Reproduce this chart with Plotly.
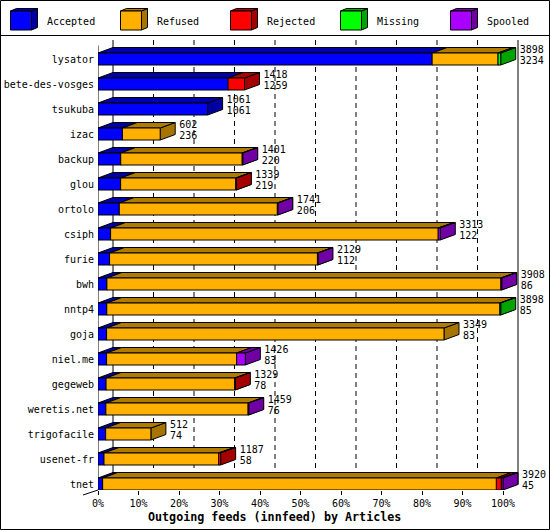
import plotly.graph_objects as go

# ---------------- data ----------------
feeds = ["lysator", "bete-des-vosges", "tsukuba", "izac", "backup", "glou", "ortolo",
         "csiph", "furie", "bwh", "nntp4", "goja", "niel.me", "gegeweb", "weretis.net",
         "trigofacile", "usenet-fr", "tnet"]
total = [3898, 1418, 1061, 602, 1401, 1339, 1741, 3313, 2129, 3908, 3898, 3349, 1426,
         1329, 1459, 512, 1187, 3920]
accepted = [3234, 1259, 1061, 236, 220, 219, 206, 122, 112, 86, 85, 83, 83, 78, 76, 74, 58, 45]
refused = [638, 0, 0, 366, 1176, 1116, 1530, 3171, 2012, 3814, 3805, 3266, 1259, 1246,
           1377, 438, 1109, 3811]
rejected = [0, 159, 0, 0, 0, 4, 0, 0, 0, 0, 0, 0, 0, 5, 0, 0, 20, 48]
missing = [26, 0, 0, 0, 0, 0, 0, 0, 0, 0, 8, 0, 0, 0, 0, 0, 0, 0]
spooled = [0, 0, 0, 0, 5, 0, 5, 20, 5, 8, 0, 0, 84, 0, 6, 0, 0, 16]

series_names = ["Accepted", "Refused", "Rejected", "Missing", "Spooled"]
series_values = [accepted, refused, rejected, missing, spooled]
front_colors = ["#0000FF", "#FFB000", "#FF0000", "#00FF00", "#AA00FF"]
top_colors = ["#0000AA", "#B07C00", "#AA0000", "#00AA00", "#7400AA"]
side_colors = ["#0000A0", "#A87400", "#A40000", "#00A400", "#7000A4"]
xtick_vals = [0, 10, 20, 30, 40, 50, 60, 70, 80, 90, 100]
xtick_text = ["0%", "10%", "20%", "30%", "40%", "50%", "60%", "70%", "80%", "90%", "100%"]
x_title = "Outgoing feeds (innfeed) by Articles"

# ---------------- geometry ----------------
W, H = 550, 530
L, R, T, B = 98, 1, 40, 40
plot_w = W - L - R
plot_h = H - T - B
PXX = 4.05                   # px per percent
XMAX = plot_w / PXX
PXY = 25.0                   # px per row
DX = 15 / PXX                # depth in x (data units)
DY = 5.5 / PXY               # depth in y (data units)
HH = 0.24                    # half height of a bar front
n = len(feeds)
YBOT = (n - 1) + HH
YTOP = YBOT - plot_h / PXY
MAXTOT = max(total)
FONT = "DejaVu Sans Mono"


def pct(v):
    return v / MAXTOT * 100.0


def px2paper(px, py):
    return (px - L) / plot_w, (H - B - py) / plot_h


fig = go.Figure()

# back-wall grid (dashed)
gx, gy = [], []
for v in xtick_vals[1:-1]:
    gx += [v + DX, v + DX, None]
    gy += [YTOP, YBOT - DY, None]
fig.add_trace(go.Scatter(x=gx, y=gy, mode="lines",
                         line=dict(color="black", width=1, dash="5px,4px"),
                         hoverinfo="skip", showlegend=False))
# back wall solid edges and front axis
fig.add_trace(go.Scatter(x=[DX, DX, None, 100 + DX, 100 + DX, None, 0, 0, None, 0, 100],
                         y=[YTOP, YBOT - DY, None, YTOP, YBOT - DY, None, YTOP + DY, YBOT, None,
                            YBOT, YBOT],
                         mode="lines", line=dict(color="black", width=1),
                         hoverinfo="skip", showlegend=False))

# 3D stacked bars
cum = [0.0] * n
for k, (name, vals) in enumerate(zip(series_names, series_values)):
    fx, fy, tx, ty, sx, sy = [], [], [], [], [], []
    for i in range(n):
        v = vals[i]
        if v <= 0:
            continue
        x0 = pct(cum[i])
        x1 = pct(cum[i] + v)
        cum[i] += v
        yt, yb = i - HH, i + HH
        fx += [x0, x1, x1, x0, x0, None]
        fy += [yt, yt, yb, yb, yt, None]
        tx += [x0, x0 + DX, x1 + DX, x1, x0, None]
        ty += [yt, yt - DY, yt - DY, yt, yt, None]
        sx += [x1, x1 + DX, x1 + DX, x1, x1, None]
        sy += [yt, yt - DY, yb - DY, yb, yt, None]
    for xs, ys, col in ((sx, sy, side_colors[k]), (tx, ty, top_colors[k]), (fx, fy, front_colors[k])):
        fig.add_trace(go.Scatter(x=xs, y=ys, mode="lines", fill="toself", fillcolor=col,
                                 line=dict(color="black", width=1), name=name,
                                 hoverinfo="skip", showlegend=False))

# value labels
lab_x = [pct(t) + DX + 4 / PXX for t in total]
fig.add_trace(go.Scatter(x=lab_x, y=[i - 0.12 - 0.22 for i in range(n)], mode="text",
                         text=[str(t) for t in total], textposition="middle right",
                         textfont=dict(family=FONT, size=10, color="black"),
                         cliponaxis=False, hoverinfo="skip", showlegend=False))
fig.add_trace(go.Scatter(x=lab_x, y=[i - 0.12 + 0.22 for i in range(n)], mode="text",
                         text=[str(a) for a in accepted], textposition="middle right",
                         textfont=dict(family=FONT, size=10, color="black"),
                         cliponaxis=False, hoverinfo="skip", showlegend=False))

shapes = []
annotations = []
# outer border & legend separator
x0p, y0p = px2paper(0.5, 0.5)
x1p, y1p = px2paper(549.5, 529.5)
shapes.append(dict(type="rect", xref="paper", yref="paper", x0=x0p, y0=y0p, x1=x1p, y1=y1p,
                   line=dict(color="black", width=1), fillcolor="rgba(0,0,0,0)"))
sy_ = px2paper(0, 35.5)[1]
shapes.append(dict(type="line", xref="paper", yref="paper", x0=x0p, x1=x1p, y0=sy_, y1=sy_,
                   line=dict(color="black", width=1)))
# 0% diagonal floor edge
a = px2paper(L, H - B)
b = px2paper(L - 15, H - B + 5)
shapes.append(dict(type="line", xref="paper", yref="paper", x0=a[0], y0=a[1], x1=b[0], y1=b[1],
                   line=dict(color="black", width=1)))


def ppath(pts):
    s = ""
    for j, (px, py) in enumerate(pts):
        qx, qy = px2paper(px, py)
        s += ("M" if j == 0 else "L") + f"{qx:.5f},{qy:.5f}"
    return s + "Z"


# legend (3D cubes)
for k, name in enumerate(series_names):
    lx0 = 10.5 + 110 * k
    lx1 = lx0 + 21
    ly0, ly1 = 11, 30
    ddx, ddy = 6, 2.5
    shapes.append(dict(type="path", xref="paper", yref="paper",
                       path=ppath([(lx1, ly0), (lx1 + ddx, ly0 - ddy), (lx1 + ddx, ly1 - ddy), (lx1, ly1)]),
                       fillcolor=side_colors[k], line=dict(color="black", width=1)))
    shapes.append(dict(type="path", xref="paper", yref="paper",
                       path=ppath([(lx0, ly0), (lx0 + ddx, ly0 - ddy), (lx1 + ddx, ly0 - ddy), (lx1, ly0)]),
                       fillcolor=top_colors[k], line=dict(color="black", width=1)))
    shapes.append(dict(type="path", xref="paper", yref="paper",
                       path=ppath([(lx0, ly0), (lx1, ly0), (lx1, ly1), (lx0, ly1)]),
                       fillcolor=front_colors[k], line=dict(color="black", width=1)))
    tx_, ty_ = px2paper(lx0 + 34, 21)
    annotations.append(dict(xref="paper", yref="paper", x=tx_, y=ty_, text=name,
                            showarrow=False, xanchor="left", yanchor="middle",
                            font=dict(family=FONT, size=10, color="black")))

# x axis title
tx_, ty_ = px2paper(274, 517)
annotations.append(dict(xref="paper", yref="paper", x=tx_, y=ty_, text="<b>" + x_title + "</b>",
                        showarrow=False, xanchor="center", yanchor="middle",
                        font=dict(family=FONT, size=11.7, color="black")))

fig.update_layout(
    template="none",
    width=W, height=H,
    margin=dict(l=L, r=R, t=T, b=B, pad=0, autoexpand=False),
    paper_bgcolor="white", plot_bgcolor="white",
    showlegend=False,
    shapes=shapes, annotations=annotations,
    xaxis=dict(range=[0, XMAX], tickvals=xtick_vals, ticktext=xtick_text, automargin=False,
               showgrid=False, zeroline=False, showline=False,
               ticks="outside", ticklen=4, tickcolor="black", tickwidth=1,
               tickfont=dict(family=FONT, size=10, color="black"), fixedrange=True),
    yaxis=dict(range=[YBOT, YTOP], tickvals=list(range(n)), ticktext=feeds, automargin=False,
               showgrid=False, zeroline=False, showline=False, ticks="",
               ticklabelstandoff=3,
               tickfont=dict(family=FONT, size=10, color="black"), fixedrange=True),
)

fig.write_html("out.html", config={"displayModeBar": False},
               post_script="document.body.style.margin='0';")
